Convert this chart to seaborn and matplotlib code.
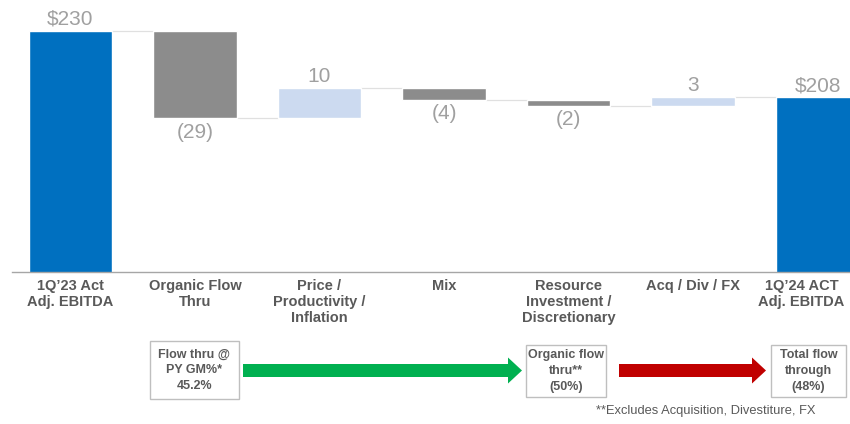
import matplotlib
matplotlib.use("Agg")
import pandas as pd
import matplotlib.pyplot as plt
import matplotlib.transforms as mtransforms
import seaborn as sns
from matplotlib.patches import Rectangle, FancyArrow

# ---- data ----
categories = ["1Q’23 Act\nAdj. EBITDA", "Organic Flow\nThru", "Price /\nProductivity /\nInflation",
              "Mix", "Resource\nInvestment /\nDiscretionary", "Acq / Div / FX", "1Q’24 ACT\nAdj. EBITDA"]
values = [230, -29, 10, -4, -2, 3, 208]
is_total = [True, False, False, False, False, False, True]
value_labels = ["$230", "(29)", "10", "(4)", "(2)", "3", "$208"]

flow_boxes = ["Flow thru @\nPY GM%*\n45.2%", "Organic flow\nthru**\n(50%)", "Total flow\nthrough\n(48%)"]
footnote = "**Excludes Acquisition, Divestiture, FX"

BLUE, GRAY, LIGHT = "#0070c0", "#8c8c8c", "#ccdaf0"
LABEL_GRAY, TEXT_DARK = "#a0a0a0", "#595959"

# ---- waterfall geometry ----
bottoms, tops, levels, colors = [], [], [], []
running = 0
for v, tot in zip(values, is_total):
    if tot:
        b, t = 0, v
        running = v
        colors.append(BLUE)
    else:
        b, t = min(running, running + v), max(running, running + v)
        running += v
        colors.append(GRAY if v < 0 else LIGHT)
    bottoms.append(b)
    tops.append(t)
    levels.append(running)

df = pd.DataFrame({"category": categories, "height": [t - b for t, b in zip(tops, bottoms)]})

sns.set_style("white")
plt.rcParams["font.family"] = ["Liberation Sans", "DejaVu Sans"]

fig = plt.figure(figsize=(8.5, 4.24), dpi=100)
ax = fig.add_axes([12 / 850, 152 / 424, 838 / 850, 272 / 424])

w = 0.67
sns.barplot(data=df, x="category", y="height", hue="category", palette=colors,
            legend=False, width=w, saturation=1, ax=ax)
for patch, b in zip(ax.patches, bottoms):
    patch.set_y(b)

# connectors
for i in range(len(values) - 1):
    ax.plot([i + w / 2, i + 1 - w / 2], [levels[i], levels[i]], color="#e0e0e0", lw=0.9, zorder=0)

# value labels
for i, (v, lbl) in enumerate(zip(values, value_labels)):
    if v < 0:
        ax.annotate(lbl, (i, bottoms[i]), xytext=(0, -3), textcoords="offset points",
                    ha="center", va="top", fontsize=15, color=LABEL_GRAY)
    else:
        ax.annotate(lbl, (i, tops[i]), xytext=(0, 1.5), textcoords="offset points",
                    ha="center", va="bottom", fontsize=15, color=LABEL_GRAY)

ax.set_xlim(-0.47, 6.26)
ax.set_ylim(150, 240.3)
ax.set_xlabel("")
ax.set_ylabel("")
ax.set_yticks([])
ax.set_xticks(range(len(categories)))
ax.set_xticklabels(categories, fontsize=10.5, fontweight="bold", color=TEXT_DARK, linespacing=1.2)
ax.tick_params(axis="x", length=0, pad=5)
# last label sits under a bar that runs off the edge: nudge it left to stay inside
last = ax.get_xticklabels()[-1]
last.set_transform(last.get_transform() + mtransforms.ScaledTranslation(-0.16, 0, fig.dpi_scale_trans))
for s in ["top", "left", "right"]:
    ax.spines[s].set_visible(False)
ax.spines["bottom"].set_color("#a6a6a6")
ax.spines["bottom"].set_linewidth(1)

# ---- flow-through boxes and arrows (pixel coords) ----
ov = fig.add_axes([0, 0, 1, 1], facecolor="none")
ov.set_xlim(0, 850)
ov.set_ylim(424, 0)
ov.axis("off")

box_pos = [(150, 341, 89, 58), (526, 345, 80, 52), (771, 345, 75, 52)]
for (x, y, bw, bh), txt in zip(box_pos, flow_boxes):
    ov.add_patch(Rectangle((x, y), bw, bh, facecolor="white", edgecolor="#bfbfbf", lw=1))
    ov.text(x + bw / 2, y + bh / 2, txt, ha="center", va="center", fontsize=9,
            fontweight="bold", color=TEXT_DARK, linespacing=1.4)

ov.add_patch(FancyArrow(243, 370.5, 279, 0, width=13, head_width=26, head_length=14,
                        length_includes_head=True, color="#00b050", lw=0))
ov.add_patch(FancyArrow(619, 370.5, 147, 0, width=13, head_width=26, head_length=14,
                        length_includes_head=True, color="#c00000", lw=0))

ov.text(596, 411, footnote, ha="left", va="center", fontsize=9.3, color=TEXT_DARK)

plt.savefig("out.png", dpi=100)
